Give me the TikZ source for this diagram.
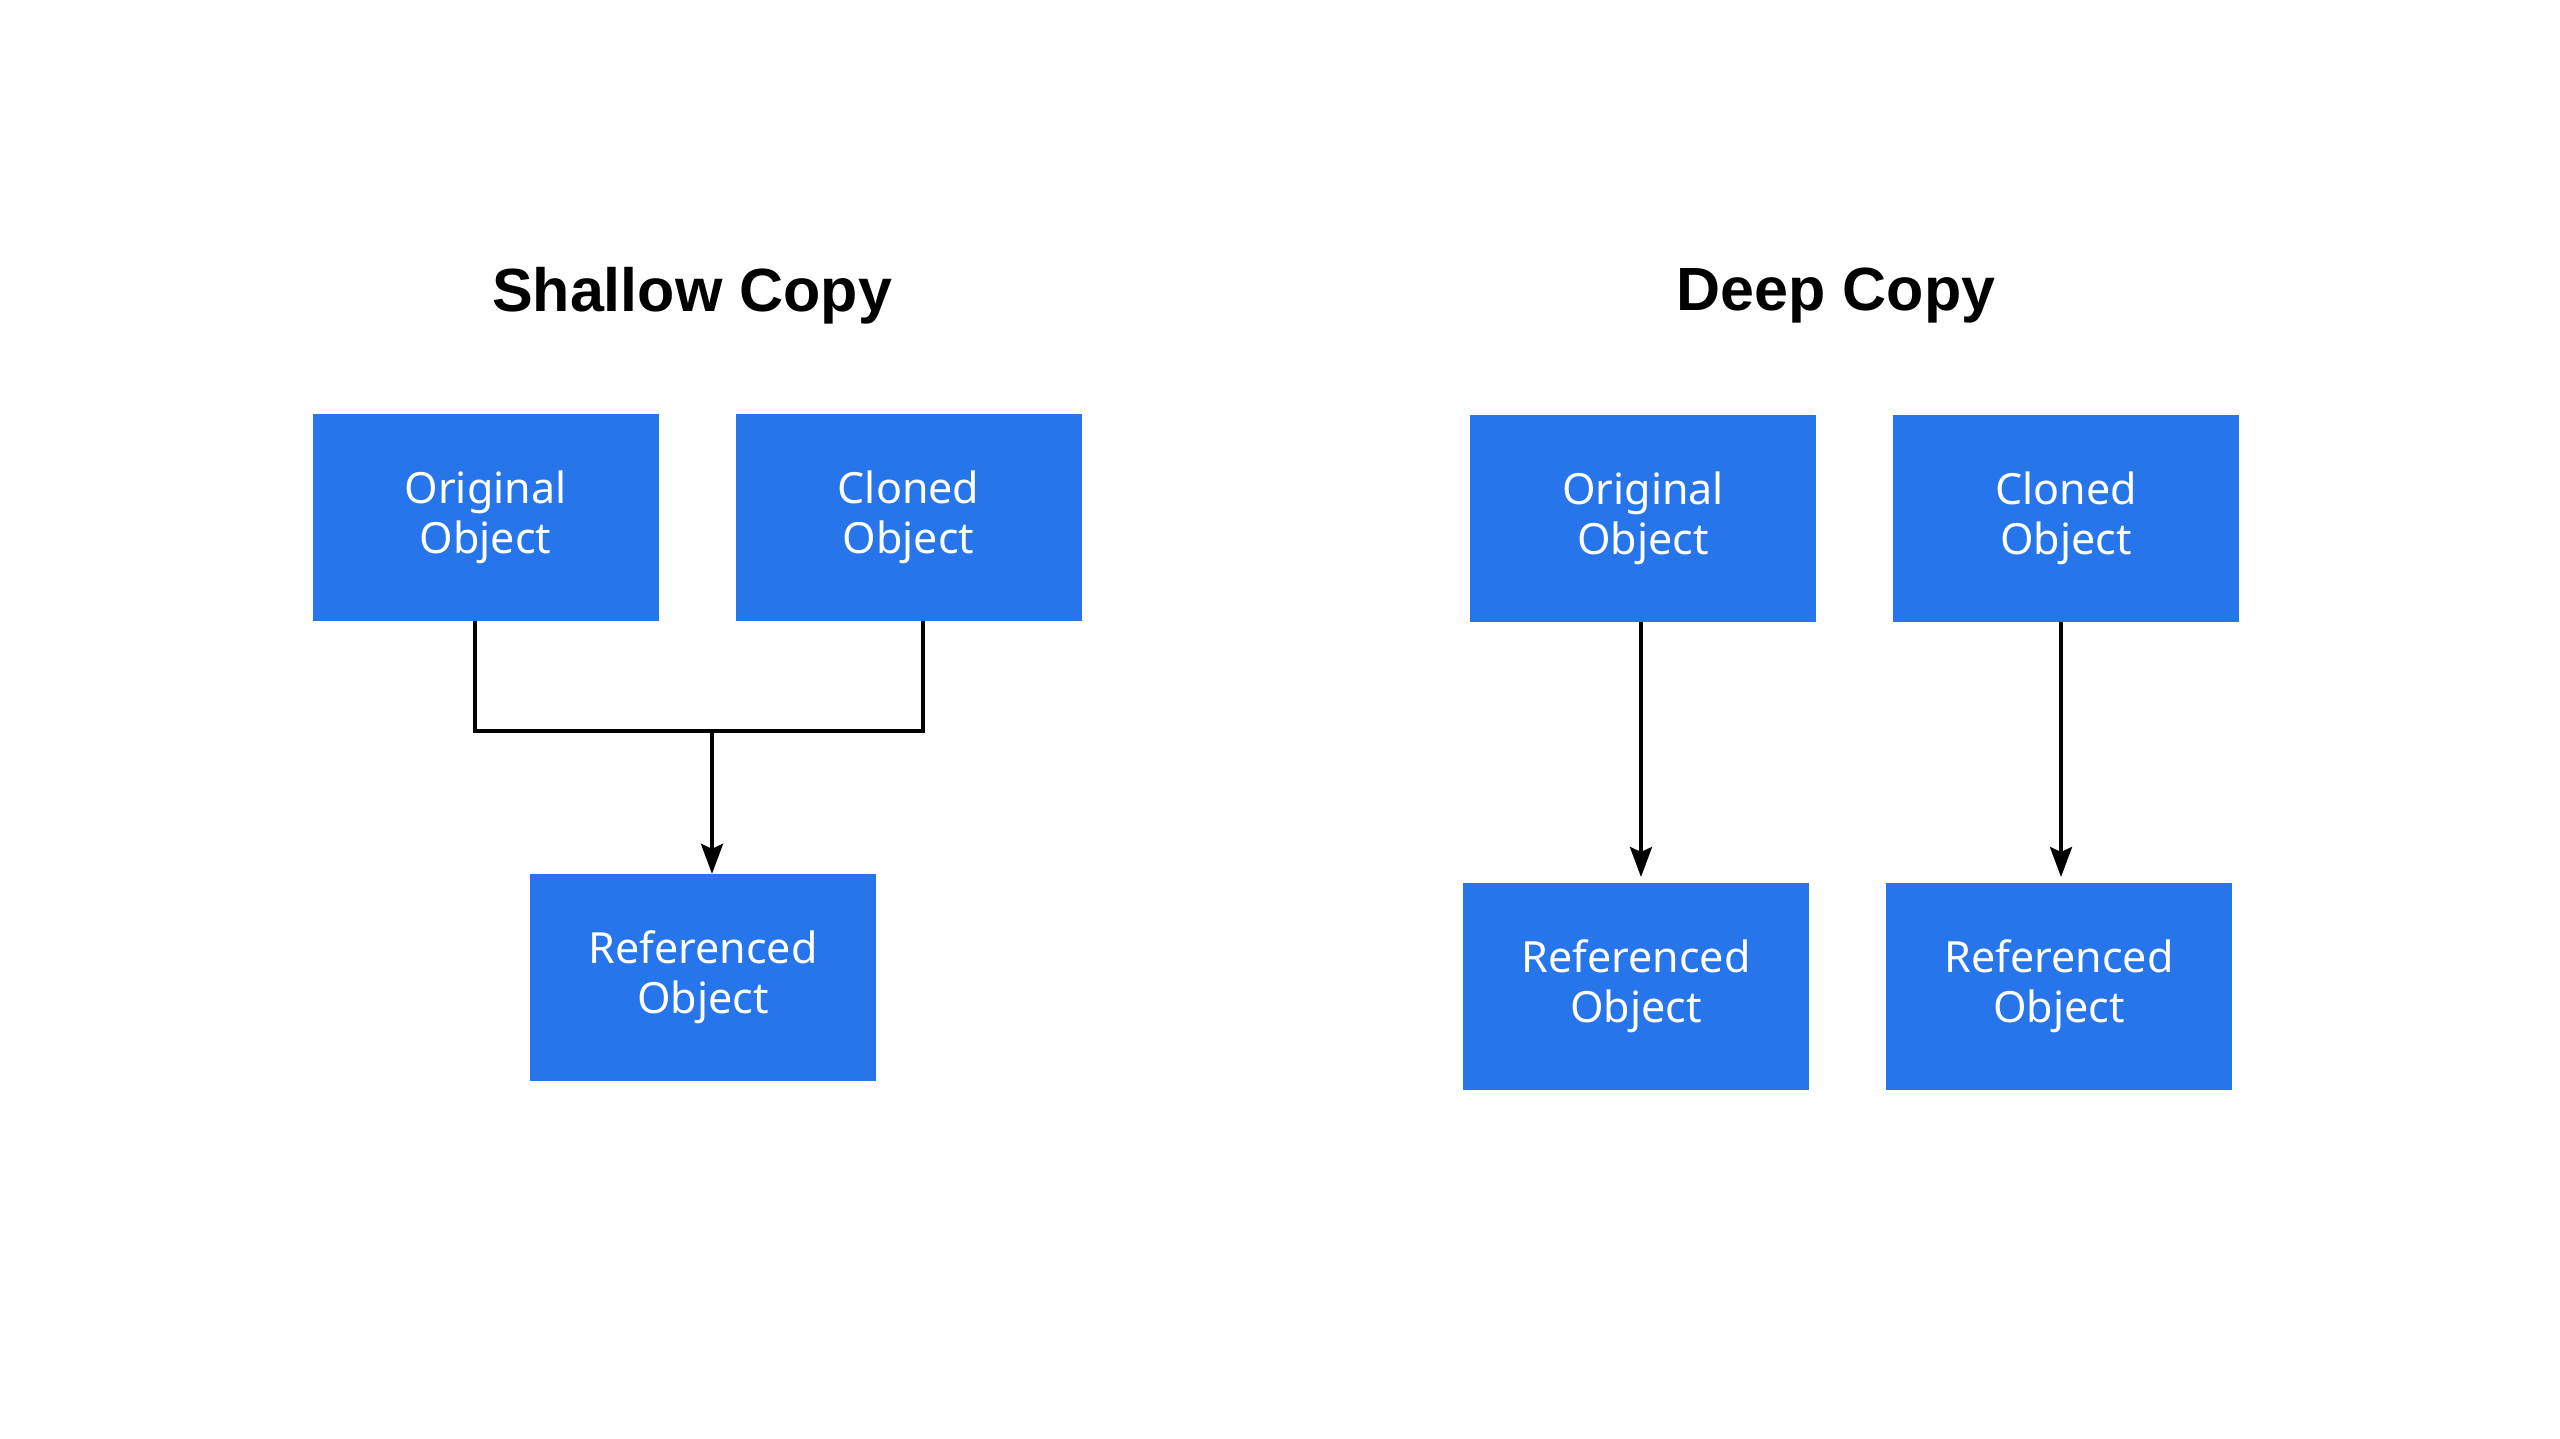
\documentclass[tikz,border=0pt]{standalone}
\usepackage{fontspec}
\setmainfont{Noto Sans}
\newfontfamily\headfont{Liberation Sans}
\usetikzlibrary{arrows.meta}
\definecolor{boxblue}{HTML}{2775EB}
\begin{document}
\begin{tikzpicture}[x=1pt,y=-1pt,
  objbox/.style={fill=boxblue, draw=none, minimum width=346pt, minimum height=207pt,
    inner sep=0pt, text=white, align=center, font=\fontsize{43}{50}\selectfont},
  heading/.style={font=\headfont\fontsize{61}{70}\selectfont\bfseries, text=black, inner sep=0pt},
  conn/.style={draw=black, line width=3.5pt},
  arr/.style={conn, -{Stealth[length=30pt,width=22pt,inset=5pt]}}]
\useasboundingbox[fill=white] (0,0) rectangle (2560,1439);
% titles
\node[heading] (t1) at (692,296) {Shallow Copy};
\node[heading] (t2) at (1836,296) {Deep Copy};
% shallow copy
\node[objbox] (o1) at (485.5,517) {Original\\Object};
\node[objbox] (c1) at (908.5,517) {Cloned\\Object};
\node[objbox] (r1) at (703,977.5) {Referenced\\Object};
\coordinate (j1) at (712,731);
\draw[conn] ([xshift=-10.5pt]o1.south) |- (j1) -| ([xshift=14.5pt]c1.south);
\draw[arr] (j1) -- (j1 |- r1.north);
% deep copy
\node[objbox] (o2) at (1643,518) {Original\\Object};
\node[objbox] (c2) at (2066,518) {Cloned\\Object};
\node[objbox] (r2) at (1636,986.5) {Referenced\\Object};
\node[objbox] (r3) at (2059,986.5) {Referenced\\Object};
\coordinate (a1) at (1641,877);
\coordinate (a2) at (2061,877);
\draw[arr] (a1 |- o2.south) -- (a1);
\draw[arr] (a2 |- c2.south) -- (a2);
\end{tikzpicture}
\end{document}
